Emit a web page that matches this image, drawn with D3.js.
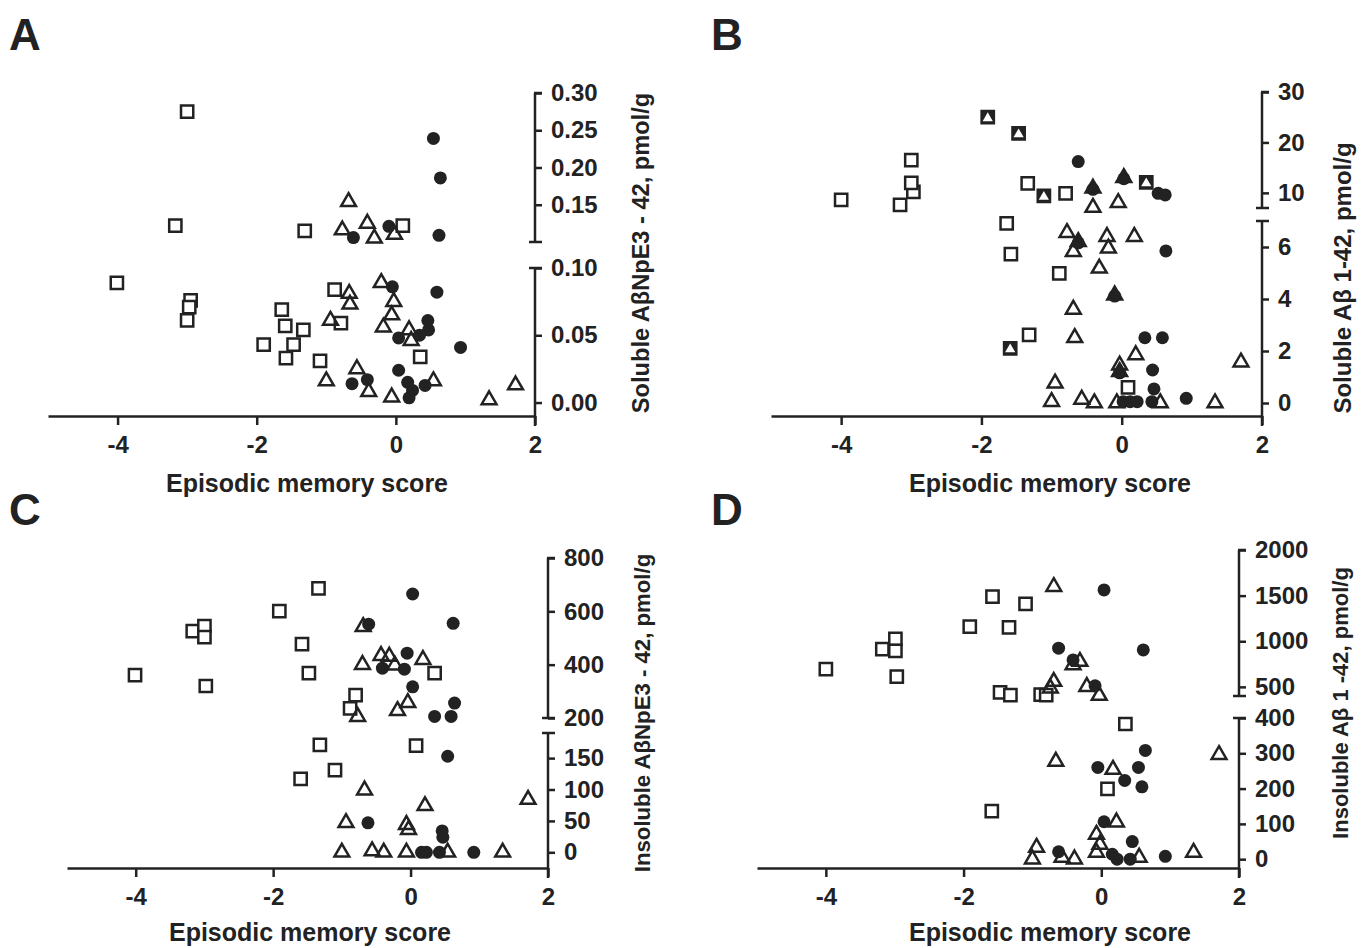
<!DOCTYPE html>
<html>
<head>
<meta charset="utf-8">
<script src="https://cdn.jsdelivr.net/npm/d3@7"></script>
<style>
  body { margin: 0; background: #fff; }
  svg text { font-family: "Liberation Sans", Arial, sans-serif; font-weight: bold; fill: #222; }
</style>
</head>
<body>
<div id="chart"></div>
<script>
// x ticks shared by all panels
const xTicks = [-4, -2, 0, 2];

// panel A: soluble AbNpE3-42 (pmol/g)
const aSquares = [[-3.0,0.275],[-3.17,0.122],[-1.31,0.115],[0.10,0.122],[-4.01,0.089],[-2.95,0.076],[-2.97,0.071],[-3.0,0.061],[-1.64,0.069],[-1.59,0.057],[-1.33,0.054],[-1.90,0.043],[-1.47,0.043],[-1.58,0.033],[-1.09,0.031],[-0.88,0.084],[-0.79,0.059],[0.35,0.034]];
const aTriangles = [[-0.68,0.154],[-0.77,0.116],[-0.41,0.125],[-0.31,0.105],[-0.02,0.110],[-0.21,0.089],[-0.67,0.081],[-0.66,0.073],[-0.03,0.075],[-0.06,0.065],[-0.94,0.061],[-0.18,0.056],[0.19,0.054],[0.22,0.046],[-0.56,0.025],[-1.0,0.016],[-0.39,0.008],[-0.06,0.004],[0.54,0.016],[1.34,0.002],[1.72,0.013]];
const aCircles = [[0.54,0.239],[0.64,0.186],[0.62,0.109],[-0.61,0.106],[-0.10,0.121],[-0.05,0.086],[0.59,0.082],[0.46,0.061],[0.47,0.054],[0.34,0.050],[0.04,0.048],[0.93,0.041],[0.04,0.024],[-0.41,0.017],[-0.63,0.014],[0.17,0.015],[0.24,0.009],[0.19,0.0035],[0.42,0.0127]];
const aUpperTicks = [0.15, 0.20, 0.25, 0.30];
const aLowerTicks = [0, 0.05, 0.10];

// panel B: soluble Ab1-42
const bSquares = [[-4.0,8.6],[-3.16,7.6],[-2.97,10.2],[-3.0,12.0],[-3.0,16.5],[-1.34,11.9],[-0.80,9.9],[-1.64,6.91],[-1.58,5.73],[-0.89,4.99],[-1.32,2.62],[0.09,0.60]];
const bSquareTriangle = [[-1.91,25.0],[-1.47,21.8],[-1.11,9.4],[0.35,12.1],[-1.59,2.1]]; // square + triangle on same spot
const bTriangles = [[-0.41,7.1],[-0.05,8.05],[-0.78,6.55],[-0.69,5.82],[-0.21,6.4],[-0.19,5.95],[0.18,6.4],[-0.32,5.18],[-0.69,3.6],[-0.67,2.51],[0.20,1.85],[-0.03,1.45],[1.70,1.57],[-0.95,0.76],[-1.0,0.05],[-0.57,0.14],[-0.39,0.0],[-0.07,0.0],[0.55,0.0],[1.33,0.0]];
const bCircleTriangle = [[-0.41,10.9],[0.03,13.0],[-0.62,6.2],[-0.10,4.15],[-0.03,1.2]]; // circle + triangle on same spot
const bCircles = [[-0.62,16.2],[0.52,9.9],[0.62,9.6],[0.63,5.85],[0.33,2.51],[0.58,2.51],[0.44,1.27],[0.46,0.54],[0.92,0.18],[0.02,0.05],[0.12,0.05],[0.22,0.05],[0.43,0.05]];
const bUpperTicks = [10, 20, 30];
const bLowerTicks = [0, 2, 4, 6];

// panel C: insoluble AbNpE3-42
const cSquares = [[-4.01,361],[-3.17,526],[-3.0,545],[-3.0,503],[-2.98,320],[-1.91,601],[-1.34,686],[-1.58,477],[-1.48,368],[-0.80,286],[-0.88,236],[0.35,368],[-1.32,171],[0.08,170],[-1.10,131],[-1.60,117]];
const cTriangles = [[-0.69,542],[-0.43,434],[-0.31,431],[-0.70,400],[-0.23,398],[0.18,419],[-0.04,257],[-0.19,227],[-0.77,205],[-0.67,99],[0.21,74],[-0.94,47],[-0.06,44],[-0.03,36],[1.71,84],[-1.0,0],[-0.56,2],[-0.39,0],[-0.06,0],[0.54,0],[1.34,0]];
const cCircles = [[0.03,665],[-0.61,552],[0.62,555],[-0.05,443],[-0.41,387],[-0.09,383],[0.03,317],[0.64,256],[0.35,206],[0.59,206],[0.54,153],[-0.62,47],[0.46,34],[0.47,24],[0.16,0],[0.23,0],[0.42,0],[0.92,0]];
const cUpperTicks = [200, 400, 600, 800];
const cLowerTicks = [0, 50, 100, 150];

// panel D: insoluble Ab1-42
const dSquares = [[-4.0,694],[-3.18,913],[-2.99,1025],[-2.99,894],[-2.97,613],[-1.91,1160],[-1.58,1489],[-1.10,1409],[-1.34,1153],[-1.47,440],[-1.32,410],[-0.88,415],[-0.80,410],[0.35,383],[0.09,199],[-1.59,136]];
const dTriangles = [[-0.69,1598],[-0.31,777],[-0.41,741],[-0.69,558],[-0.74,486],[-0.21,503],[-0.03,405],[-0.66,277],[0.17,254],[0.22,105],[-0.07,70],[-0.02,42],[-0.07,19],[-0.94,33],[-1.0,0],[-0.57,5],[-0.39,0],[0.55,5],[1.34,19],[1.71,296]];
const dCircles = [[0.04,1562],[-0.62,924],[0.61,905],[-0.41,795],[-0.09,511],[0.64,308],[-0.05,260],[0.54,260],[0.34,223],[0.59,205],[0.04,106],[0.45,50],[-0.62,21],[0.16,14],[0.23,0],[0.42,0],[0.93,8]];
const dUpperTicks = [500, 1000, 1500, 2000];
const dLowerTicks = [0, 100, 200, 300, 400];

const ink = "#222";

// layout for each panel (broken y axis on the right)
const panels = [
  {letter: "A", lx: 9, ly: 50, x0: 48, x1: 535, axisY: 416, titleY: 492, titleX: 307,
   upper: {domain: [0.1, 0.3], range: [242, 93], ticks: aUpperTicks},
   lower: {domain: [-0.01, 0.1], range: [416, 268], ticks: aLowerTicks},
   fmt: d3.format(".2f"), yTitle: "Soluble AβNpE3 - 42, pmol/g", yTitleDx: 106, yTitleY: 253, yTitleSize: 23.6,
   squares: aSquares, triangles: aTriangles, circles: aCircles, sqTri: [], ciTri: []},
  {letter: "B", lx: 711, ly: 50, x0: 771, x1: 1262, axisY: 416, titleY: 492, titleX: 1050,
   upper: {domain: [7, 30], range: [208, 92], ticks: bUpperTicks},
   lower: {domain: [-0.5, 7], range: [416, 221], ticks: bLowerTicks},
   fmt: d3.format("d"), yTitle: "Soluble Aβ 1-42, pmol/g", yTitleDx: 81, yTitleY: 278, yTitleSize: 24,
   squares: bSquares, triangles: bTriangles, circles: bCircles, sqTri: bSquareTriangle, ciTri: bCircleTriangle},
  {letter: "C", lx: 9, ly: 525, x0: 67, x1: 548, axisY: 868, titleY: 941, titleX: 310,
   upper: {domain: [200, 800], range: [718, 558], ticks: cUpperTicks},
   lower: {domain: [-25, 190], range: [868, 733], ticks: cLowerTicks},
   fmt: d3.format("d"), yTitle: "Insoluble AβNpE3 - 42, pmol/g", yTitleDx: 94, yTitleY: 713, yTitleSize: 22.2,
   squares: cSquares, triangles: cTriangles, circles: cCircles, sqTri: [], ciTri: []},
  {letter: "D", lx: 711, ly: 525, x0: 757, x1: 1239, axisY: 868, titleY: 941, titleX: 1050,
   upper: {domain: [400, 2000], range: [696, 550], ticks: dUpperTicks},
   lower: {domain: [-25, 400], range: [868, 718], ticks: dLowerTicks},
   fmt: d3.format("d"), yTitle: "Insoluble Aβ 1 -42, pmol/g", yTitleDx: 101, yTitleY: 703, yTitleSize: 22,
   squares: dSquares, triangles: dTriangles, circles: dCircles, sqTri: [], ciTri: []}
];

const svg = d3.select("#chart").append("svg")
  .attr("width", 1368)
  .attr("height", 948);

const square = d3.symbol().type(d3.symbolSquare).size(150);
const triangle = d3.symbol().type(d3.symbolTriangle).size(95);

function styleTicks(sel) {
  sel.selectAll(".tick line").attr("stroke", ink).attr("stroke-width", 2.5);
  sel.selectAll(".tick text").attr("font-size", 24).attr("fill", ink)
    .style("font-family", "Liberation Sans, Arial, sans-serif").style("font-weight", "bold");
}

panels.forEach(function(p) {
  const g = svg.append("g");

  const x = d3.scaleLinear().domain([-5, 2]).range([p.x0, p.x1]);
  const yUp = d3.scaleLinear().domain(p.upper.domain).range(p.upper.range);
  const yLo = d3.scaleLinear().domain(p.lower.domain).range(p.lower.range);
  // pick the segment a value belongs to
  const y = v => v > p.lower.domain[1] ? yUp(v) : yLo(v);

  // x axis
  const xAxis = g.append("g")
    .attr("transform", `translate(0,${p.axisY})`)
    .call(d3.axisBottom(x).tickValues(xTicks).tickFormat(d => String(d))
      .tickSize(9).tickSizeOuter(0).tickPadding(11));
  xAxis.select(".domain").attr("stroke", ink).attr("stroke-width", 2.5);
  styleTicks(xAxis);

  // y axis, two segments
  [p.upper, p.lower].forEach(function(seg, i) {
    const sc = i === 0 ? yUp : yLo;
    const ax = g.append("g")
      .attr("transform", `translate(${p.x1},0)`)
      .call(d3.axisRight(sc).tickValues(seg.ticks).tickFormat(p.fmt).tickSize(7).tickPadding(9));
    ax.select(".domain").remove();
    styleTicks(ax);
  });
  // axis lines and break caps
  g.append("line").attr("x1", p.x1).attr("x2", p.x1)
    .attr("y1", p.upper.range[1]).attr("y2", p.upper.range[0])
    .attr("stroke", ink).attr("stroke-width", 2.5);
  g.append("line").attr("x1", p.x1).attr("x2", p.x1)
    .attr("y1", p.lower.range[1]).attr("y2", p.axisY + 10)
    .attr("stroke", ink).attr("stroke-width", 2.5);
  [p.upper.range[1], p.upper.range[0], p.lower.range[1]].forEach(function(cy, i) {
    g.append("line")
      .attr("x1", i === 0 ? p.x1 - 1 : p.x1 - 6).attr("x2", p.x1 + 7)
      .attr("y1", cy).attr("y2", cy)
      .attr("stroke", ink).attr("stroke-width", 2.5);
  });

  // titles
  g.append("text")
    .attr("x", p.titleX).attr("y", p.titleY)
    .attr("text-anchor", "middle").attr("font-size", 25)
    .text("Episodic memory score");
  g.append("text")
    .attr("transform", `translate(${p.x1 + p.yTitleDx},${p.yTitleY}) rotate(-90)`)
    .attr("text-anchor", "middle").attr("dy", "0.35em").attr("font-size", p.yTitleSize)
    .text(p.yTitle);
  g.append("text")
    .attr("x", p.lx).attr("y", p.ly).attr("font-size", 44)
    .text(p.letter);

  // markers
  g.selectAll("path.sq").data(p.squares).join("path")
    .attr("class", "sq")
    .attr("transform", d => `translate(${x(d[0])},${y(d[1])})`)
    .attr("d", square).attr("fill", "#fff").attr("stroke", ink).attr("stroke-width", 2.5);

  g.selectAll("path.tr").data(p.triangles).join("path")
    .attr("class", "tr")
    .attr("transform", d => `translate(${x(d[0])},${y(d[1])})`)
    .attr("d", triangle).attr("fill", "none").attr("stroke", ink).attr("stroke-width", 2.5);

  g.selectAll("path.st").data(p.sqTri).join("path")
    .attr("class", "st")
    .attr("transform", d => `translate(${x(d[0])},${y(d[1])})`)
    .attr("d", square).attr("fill", ink).attr("stroke", ink).attr("stroke-width", 2.5);
  g.selectAll("path.st2").data(p.sqTri).join("path")
    .attr("class", "st2")
    .attr("transform", d => `translate(${x(d[0])},${y(d[1]) + 1})`)
    .attr("d", d3.symbol().type(d3.symbolTriangle).size(45)).attr("fill", "#fff");

  g.selectAll("circle.ci").data(p.circles).join("circle")
    .attr("class", "ci")
    .attr("cx", d => x(d[0])).attr("cy", d => y(d[1]))
    .attr("r", 6.5).attr("fill", ink);

  g.selectAll("circle.ct").data(p.ciTri).join("circle")
    .attr("class", "ct")
    .attr("cx", d => x(d[0])).attr("cy", d => y(d[1]) + 1)
    .attr("r", 6.5).attr("fill", ink);
  g.selectAll("path.ct2").data(p.ciTri).join("path")
    .attr("class", "ct2")
    .attr("transform", d => `translate(${x(d[0])},${y(d[1])})`)
    .attr("d", triangle).attr("fill", ink).attr("stroke", ink).attr("stroke-width", 2.5);
});
</script>
</body>
</html>
